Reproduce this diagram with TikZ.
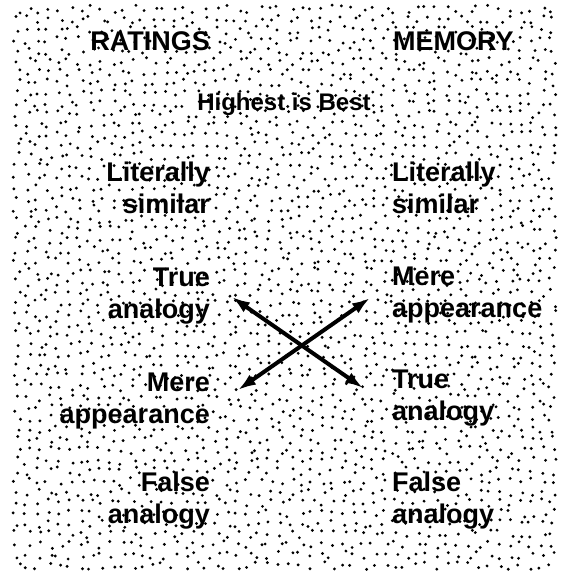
\documentclass[tikz,border=0pt]{standalone}
\usepackage{fontspec}
\setmainfont{Liberation Sans}
\usepackage{tikz}
\usetikzlibrary{arrows.meta}
\newcommand{\colfont}{\fontsize{27}{32}\selectfont\bfseries}
\newcommand{\notefont}{\fontsize{24}{28}\selectfont\bfseries}
\tikzset{
  ratingcol/.style={anchor=base east,align=right,inner sep=0pt,font=\colfont},
  memorycol/.style={anchor=base west,align=left,inner sep=0pt,font=\colfont},
  note/.style={anchor=base,inner sep=0pt,font=\notefont},
  stipple/.style={fill=black},
  swap/.style={{Latex[length=18pt,width=12pt]}-{Latex[length=18pt,width=12pt]},line width=4pt}
}

\begin{document}
\begin{tikzpicture}[x=1pt,y=-1pt]
\useasboundingbox (0,0) rectangle (563,571);
\pgfmathsetseed{4217}
\foreach \gx in {17,27.5,...,560} {
  \foreach \gy in {9,19.5,...,568} {
    \fill[stipple] ({\gx+8*rnd-4},{\gy+8*rnd-4}) circle (1.6);
  }
}
\node[ratingcol] (ratings) at (210,50) {RATINGS};
\node[memorycol] (memory) at (393,50) {MEMORY};
\node[note] (best) at (284,110) {Highest is Best};
\node[ratingcol] (llit) at (210,213) {Literally\\similar};
\node[ratingcol] (ltrue) at (210,318) {True\\analogy};
\node[ratingcol] (lmere) at (210,423) {Mere\\appearance};
\node[ratingcol] (lfalse) at (210,523) {False\\analogy};
\node[memorycol] (rlit) at (392,213) {Literally\\similar};
\node[memorycol] (rmere) at (392,317) {Mere\\appearance};
\node[memorycol] (rtrue) at (392,420) {True\\analogy};
\node[memorycol] (rfalse) at (392,523) {False\\analogy};
\draw[swap] ([shift={(22,-21)}]ltrue.base east) -- ([shift={(-29,-32)}]rtrue.base west);
\draw[swap] ([shift={(28,-33)}]lmere.base east) -- ([shift={(-22,-19)}]rmere.base west);
\end{tikzpicture}
\end{document}
